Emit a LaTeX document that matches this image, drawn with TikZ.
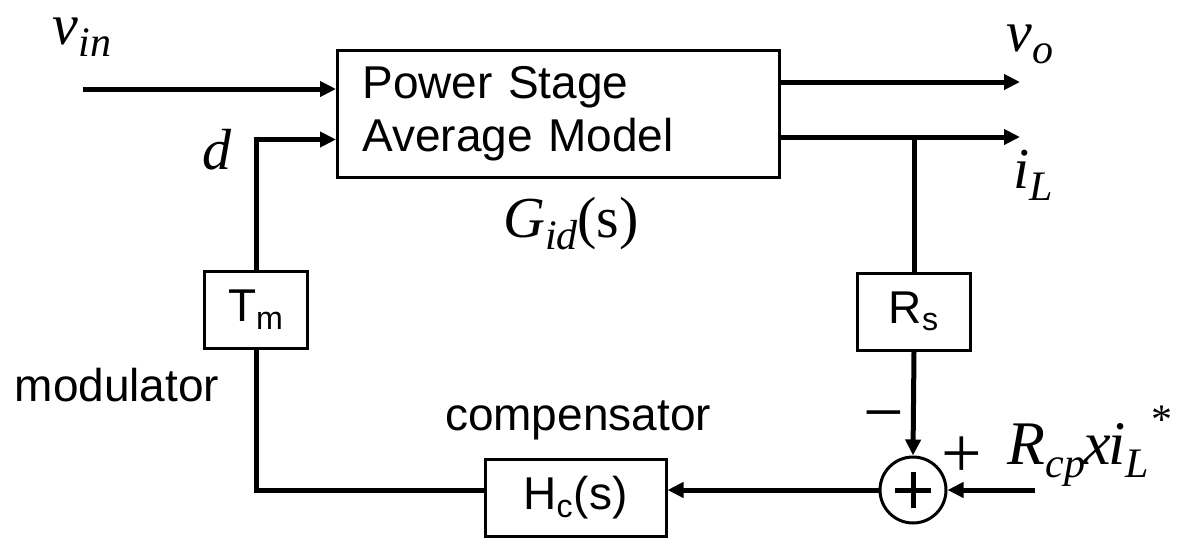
\documentclass[tikz,border=0pt]{standalone}
\usepackage{fontspec}
\setmainfont{Liberation Sans}
\newfontfamily\tms{Liberation Serif}
\newcommand{\lsub}[1]{\raisebox{-0.45ex}{\fontsize{21}{21}\selectfont #1}}
\newcommand{\lsup}[1]{\raisebox{1.1ex}{\fontsize{21}{21}\selectfont #1}}
\usetikzlibrary{arrows.meta,positioning}

\begin{document}
\begin{tikzpicture}[x=0.5pt,y=-0.5pt]
  \tikzset{blk/.style={draw,line width=1.5pt,inner sep=0pt,minimum height=38.5pt,font=\fontsize{23}{26.5}\selectfont},
    sig/.style={line width=2.5pt,-{Triangle[length=8pt,width=7.5pt]}},
    wire/.style={line width=2.5pt},
    lbl/.style={inner sep=0pt,font=\tms\itshape\fontsize{29}{32}\selectfont},
    sign/.style={inner sep=0pt,font=\tms\fontsize{36}{36}\selectfont},
    txt/.style={font=\fontsize{23}{26.5}\selectfont}}
  \useasboundingbox (0,0) rectangle (1189,542);
  \node[blk,minimum height=63.5pt,inner xsep=12.5pt,text width=196pt,align=left] (plant) at (558.5,113.5) {Power Stage\\Average Model};
  \node[blk,minimum width=51.5pt] (Tm) at (256,309.5) {T\textsubscript{m}};
  \node[blk,minimum width=56.5pt] (Rs) at (914,311.5) {R\textsubscript{s}};
  \node[blk,minimum width=90.5pt] (Hc) at (575.5,498) {H\textsubscript{c}(s)};
  \node[draw,circle,line width=1.5pt,minimum size=33pt,inner sep=0pt,
    path picture={\draw[line width=2.5pt] ([xshift=-9pt]path picture bounding box.center) -- ++(18pt,0)
      ([yshift=-9pt]path picture bounding box.center) -- ++(0,18pt);}] (sum) at (913,490) {};
  \coordinate (vinsrc) at (83,89);
  \coordinate (voend) at (1020,82);
  \coordinate (ilend) at (1020,137);
  \coordinate (ref) at (1035,490);
  % signals
  \draw[sig] (vinsrc) -- (vinsrc -| plant.west);
  \draw[sig] (voend -| plant.east) -- (voend);
  \draw[sig] (ilend -| plant.east) -- (ilend);
  \draw[wire] (ilend -| Rs) -- (Rs.north);
  \draw[sig] (Rs.south) -- (sum.north);
  \draw[sig] (ref) -- (sum.east);
  \draw[sig] (sum.west) -- (sum.west -| Hc.east);
  \draw[wire] (Hc.west |- sum) -| (Tm.south);
  \draw[sig] (Tm.north) |- ([yshift=-13pt]plant.west);
  % labels
  \node[lbl] (vin) at (82,37) {v\lsub{in}};
  \node[lbl] (d) at (217,150) {d};
  \node[lbl] (vo) at (1030,44) {v\lsub{o}};
  \node[lbl] (iL) at (1033,175) {i\lsub{L}};
  \node[lbl] (Gid) at (571,224) {G\lsub{id}\upshape(s)};
  \node[sign] (minus) at (884,424) {−};
  \node[sign] (plus) at (962,457) {+};
  \node[lbl,font=\tms\itshape\fontsize{31}{34}\selectfont] (Rcp) at (1089,446) {R\lsub{cp}\kern-1pt x\kern-1pt i\lsub{L}\lsup{*}};
  \node[txt] (mod) at (117,385) {modulator};
  \node[txt] (comp) at (578,420) {compensator};
\end{tikzpicture}
\end{document}
